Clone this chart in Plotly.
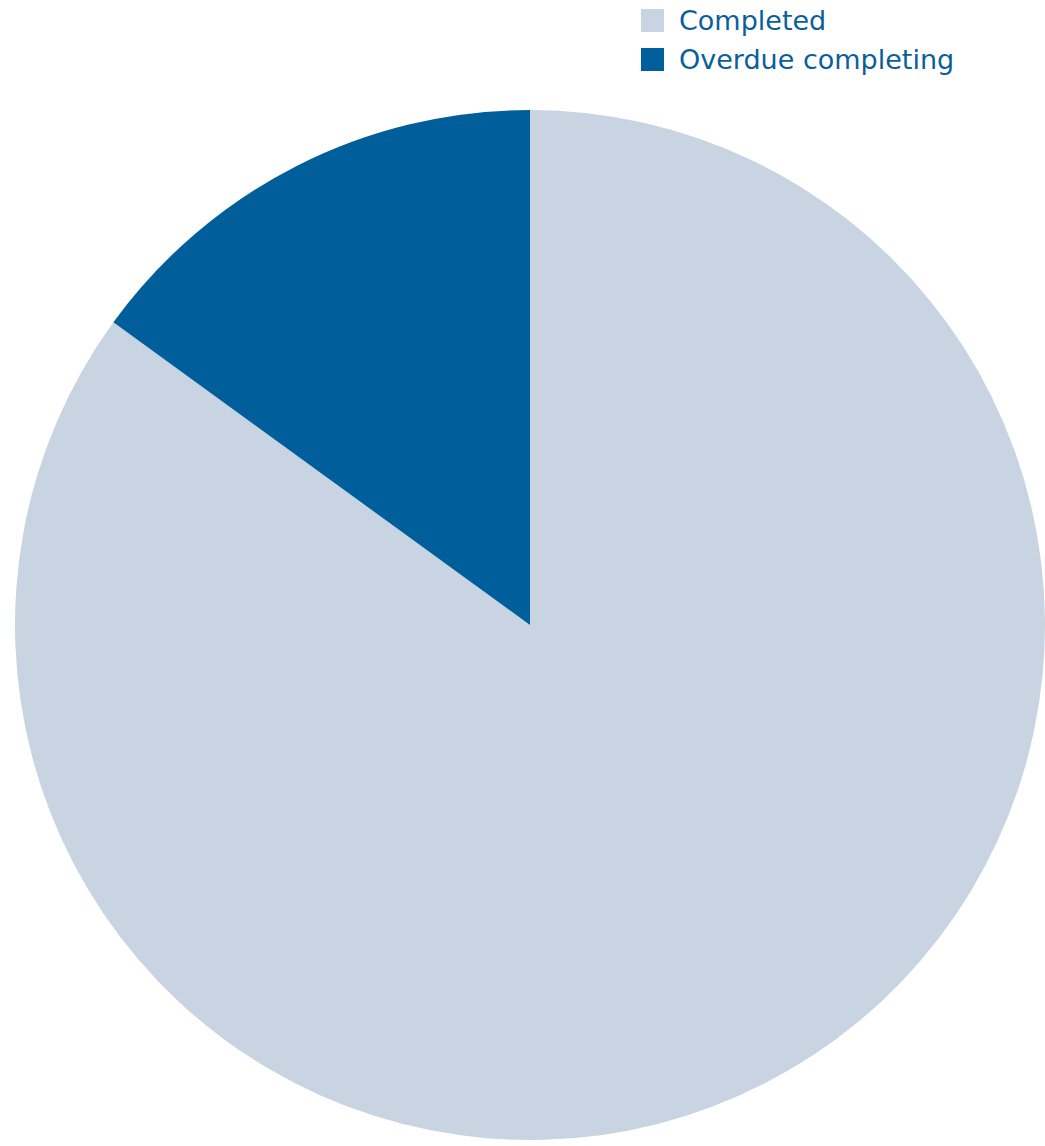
import plotly.graph_objects as go

# Data
labels = ["Completed", "Overdue completing"]
values = [85, 15]
colors = ["#c8d4e2", "#005f9b"]

W, H = 1045, 1146
cx, cy, r = 530, 625, 515

fig = go.Figure()
fig.add_trace(go.Pie(
    labels=labels,
    values=values,
    marker=dict(colors=colors, line=dict(width=0)),
    sort=False,
    direction="clockwise",
    rotation=0,
    textinfo="none",
    showlegend=False,
    domain=dict(x=[(cx - r) / W, (cx + r) / W],
                y=[1 - (cy + r) / H, 1 - (cy - r) / H]),
))

# Manual legend with large square swatches
shapes = []
annotations = []
for i, (lab, col) in enumerate(zip(labels, colors)):
    top = 9 + i * 39
    shapes.append(dict(type="rect", xref="paper", yref="paper",
                       x0=641 / W, x1=664 / W,
                       y0=1 - (top + 23) / H, y1=1 - top / H,
                       fillcolor=col, line=dict(width=0)))
    annotations.append(dict(text=lab, xref="paper", yref="paper",
                            x=677 / W, y=1 - (top + 11.5) / H,
                            xanchor="left", yanchor="middle", showarrow=False,
                            font=dict(family="DejaVu Sans, sans-serif",
                                      size=27, color="#0a5f9b")))

fig.update_layout(
    width=W, height=H,
    margin=dict(l=0, r=0, t=0, b=0),
    paper_bgcolor="white",
    plot_bgcolor="white",
    shapes=shapes,
    annotations=annotations,
)

fig.write_html("out.html")
